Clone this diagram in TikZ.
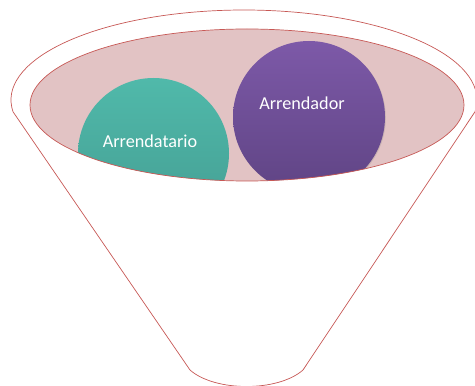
\documentclass[tikz,border=0pt]{standalone}
\usepackage{fontspec}
\setmainfont{Carlito}
\usetikzlibrary{shadows}
\definecolor{funnelred}{HTML}{C75855}
\definecolor{pinkfill}{HTML}{E2C3C4}
\definecolor{tealtop}{HTML}{50B9AA}
\definecolor{tealbot}{HTML}{449D92}
\definecolor{purptop}{HTML}{7D59A8}
\definecolor{purpbot}{HTML}{5F4484}
\tikzset{
  funnelline/.style={draw=funnelred, line width=0.7pt},
  lbl/.style={text=white, font=\fontsize{18.2}{20}\selectfont, inner sep=0pt}
}
\begin{document}
\begin{tikzpicture}[x=1pt,y=1pt]
\useasboundingbox (0,0) rectangle (475,386);
\clip (0,0) rectangle (475,386);
% outer funnel
\coordinate (kl) at ({244+233*cos(187.5)},{286+90*sin(187.5)});
\coordinate (kr) at ({244+233*cos(-7.5)},{286+90*sin(-7.5)});
\coordinate (bl) at (190,16);
\coordinate (br) at (303,16);
\draw[funnelline, fill=white] (kl) arc[start angle=187.5, end angle=-7.5, x radius=233, y radius=90]
  -- (br) .. controls (278,-6) and (215,-6) .. (bl) -- cycle;
% inner ellipse
\fill[pinkfill] (247,281) ellipse [x radius=217, y radius=76];
\begin{scope}
  \clip (247,281) ellipse [x radius=217, y radius=76];
  \shade[top color=tealtop, bottom color=tealbot] (153.5,232.5) circle [radius=75.5];
  \shade[top color=purptop, bottom color=purpbot, drop shadow={opacity=0.25, shadow xshift=0.8pt, shadow yshift=-0.8pt}] (309,269) circle [radius=76];
\end{scope}
\draw[funnelline] (247,281) ellipse [x radius=217, y radius=76];
\node[lbl] (t1) at (150,245) {Arrendatario};
\node[lbl] (t2) at (302,283) {Arrendador};
\end{tikzpicture}
\end{document}
